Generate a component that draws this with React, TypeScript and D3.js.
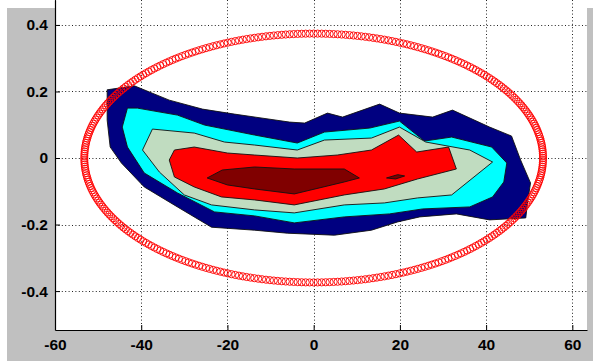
import React from "react";
import { select, scaleLinear, line, range, axisBottom, axisLeft } from "d3";

type Pt = [number, number];

// tick values
const xTicks = [-60, -40, -20, 0, 20, 40, 60];
const yTicks = [-0.4, -0.2, 0, 0.2, 0.4];

// filled contour levels, outermost first
const levelColors = ["#000080", "#00ffff", "#c0dcc0", "#ff0000", "#800000"];

const level1: Pt[] = [
  [-47.9, 0.205], [-41.6, 0.217], [-33.5, 0.174], [-25.8, 0.147], [-18.4, 0.132],
  [-5.6, 0.108], [-2.1, 0.105], [3.2, 0.135], [6.7, 0.123], [15.3, 0.162],
  [19.9, 0.135], [27.6, 0.123], [32.2, 0.144], [40.8, 0.093], [45.9, 0.066],
  [48.0, -0.006], [50.3, -0.075], [49.6, -0.135], [49.2, -0.18], [40.8, -0.186],
  [33.1, -0.168], [24.6, -0.177], [19.5, -0.192], [13.4, -0.217], [4.8, -0.232],
  [-6.1, -0.226], [-13.7, -0.217], [-23.7, -0.208], [-31.6, -0.147], [-39.3, -0.087],
  [-44.6, -0.015], [-47.2, 0.033], [-47.9, 0.114],
];

const level2: Pt[] = [
  [-43.2, 0.15], [-40.9, 0.15], [-31.6, 0.129], [-25.3, 0.099], [-13.7, 0.069],
  [-3.8, 0.045], [2.5, 0.078], [13.0, 0.09], [19.9, 0.111], [25.7, 0.051],
  [32.0, 0.063], [41.3, 0.033], [44.8, -0.015], [44.1, -0.072], [41.5, -0.117],
  [36.2, -0.147], [25.3, -0.153], [17.6, -0.168], [7.1, -0.177], [-4.5, -0.195],
  [-13.7, -0.174], [-23.0, -0.162], [-31.6, -0.105], [-39.3, -0.045], [-43.2, 0.033],
  [-44.4, 0.093],
];

const level3: Pt[] = [
  [-37.4, 0.087], [-27.7, 0.075], [-20.7, 0.048], [-13.7, 0.039], [-3.8, 0.024],
  [2.5, 0.054], [13.4, 0.06], [19.9, 0.093], [26.0, 0.048], [36.2, 0.024],
  [41.5, -0.012], [32.0, -0.111], [24.1, -0.12], [16.4, -0.135], [7.1, -0.141],
  [-4.5, -0.165], [-13.7, -0.156], [-23.7, -0.141], [-30.0, -0.111], [-35.8, -0.042],
  [-39.7, 0.024],
];

const level4: Pt[] = [
  [-32.3, 0.024], [-27.7, 0.033], [-20.0, 0.015], [-13.7, 0.009], [-3.8, 0.0],
  [5.5, 0.009], [13.4, 0.024], [19.7, 0.069], [23.9, 0.018], [31.3, 0.033],
  [33.1, -0.033], [24.1, -0.063], [16.4, -0.093], [7.1, -0.111], [-4.5, -0.141],
  [-13.7, -0.126], [-21.4, -0.117], [-27.7, -0.087], [-32.3, -0.057], [-33.5, -0.006],
];

const level5: Pt[] = [
  [-24.7, -0.06], [-21.2, -0.036], [-13.7, -0.027], [-4.5, -0.033], [7.1, -0.033],
  [10.6, -0.06], [7.1, -0.072], [-4.5, -0.108], [-13.7, -0.093], [-20.0, -0.081],
];

const level5b: Pt[] = [[16.9, -0.06], [19.5, -0.05], [21.1, -0.054], [19.0, -0.063]];

const contours = [
  { level: 0, pts: level1 },
  { level: 1, pts: level2 },
  { level: 2, pts: level3 },
  { level: 3, pts: level4 },
  { level: 4, pts: level5 },
  { level: 4, pts: level5b },
];

// fitted ellipse drawn with circle markers
const ellipse = { cx: 0, cy: 0, rx: 53.2, ry: 0.374, n: 360 };

const W = 593;
const H = 361;
const plot = { left: 55, right: 587, top: 0, bottom: 330 };

export default function App() {
  const svgRef = React.useRef<SVGSVGElement>(null);

  React.useEffect(() => {
    const svg = select(svgRef.current);
    svg.selectAll("*").remove();

    const x = scaleLinear().domain([-60, 63.4]).range([plot.left, plot.right]);
    const y = scaleLinear().domain([-0.517, 0.475]).range([plot.bottom, plot.top]);

    // figure background
    svg.append("rect").attr("width", W).attr("height", H).attr("fill", "#fff");
    svg
      .append("rect")
      .attr("x", 7)
      .attr("y", 8)
      .attr("width", W - 7)
      .attr("height", H - 8)
      .attr("fill", "#c0c0c0");
    svg
      .append("rect")
      .attr("x", plot.left)
      .attr("y", plot.top)
      .attr("width", plot.right - plot.left)
      .attr("height", plot.bottom - plot.top)
      .attr("fill", "#fff");

    // dotted grid
    const grid = svg.append("g").attr("stroke", "#222").attr("stroke-width", 1).attr("stroke-dasharray", "1,2.4");
    grid
      .selectAll("line.v")
      .data(xTicks)
      .join("line")
      .attr("class", "v")
      .attr("x1", (d) => Math.round(x(d)) + 0.5)
      .attr("x2", (d) => Math.round(x(d)) + 0.5)
      .attr("y1", plot.top)
      .attr("y2", plot.bottom);
    grid
      .selectAll("line.h")
      .data(yTicks)
      .join("line")
      .attr("class", "h")
      .attr("x1", plot.left)
      .attr("x2", plot.right)
      .attr("y1", (d) => Math.round(y(d)) + 0.5)
      .attr("y2", (d) => Math.round(y(d)) + 0.5);

    // filled contours
    const path = line<Pt>()
      .x((d) => x(d[0]))
      .y((d) => y(d[1]));
    svg
      .append("g")
      .selectAll("path")
      .data(contours)
      .join("path")
      .attr("d", (d) => path(d.pts) + "Z")
      .attr("fill", (d) => levelColors[d.level])
      .attr("stroke", "#111")
      .attr("stroke-width", 0.9)
      .attr("stroke-linejoin", "round");

    // axes
    const fontFamily = "'Liberation Sans', Arial, sans-serif";
    const gx = svg
      .append("g")
      .attr("transform", `translate(0,${plot.bottom})`)
      .call(
        axisBottom(x)
          .tickValues(xTicks)
          .tickSize(-5)
          .tickSizeOuter(0)
          .tickPadding(9)
          .tickFormat((d) => `${d}`)
      );
    const gy = svg
      .append("g")
      .attr("transform", `translate(${plot.left},0)`)
      .call(
        axisLeft(y)
          .tickValues(yTicks)
          .tickSize(-5)
          .tickSizeOuter(0)
          .tickPadding(7)
          .tickFormat((d) => `${+d === 0 ? 0 : (+d).toFixed(1)}`)
      );
    [gx, gy].forEach((g) => {
      g.attr("font-family", fontFamily).attr("font-size", 15.5).attr("font-weight", "bold");
      g.select(".domain").attr("stroke", "#000").attr("stroke-width", 1.2);
      g.selectAll(".tick line").attr("stroke", "#000");
      g.selectAll(".tick text").attr("fill", "#000");
    });

    // ellipse markers
    const angles = range(ellipse.n).map((i) => (i / ellipse.n) * 2 * Math.PI);
    svg
      .append("g")
      .selectAll("circle")
      .data(angles)
      .join("circle")
      .attr("cx", (t) => x(ellipse.cx + ellipse.rx * Math.cos(t)))
      .attr("cy", (t) => y(ellipse.cy + ellipse.ry * Math.sin(t)))
      .attr("r", 3.6)
      .attr("fill", "none")
      .attr("stroke", "#ff0000")
      .attr("stroke-width", 0.9);

    return () => {
      svg.selectAll("*").remove();
    };
  }, []);

  return (
    <svg
      ref={svgRef}
      width={W}
      height={H}
      style={{ position: "absolute", left: 0, top: 0, display: "block" }}
    />
  );
}
